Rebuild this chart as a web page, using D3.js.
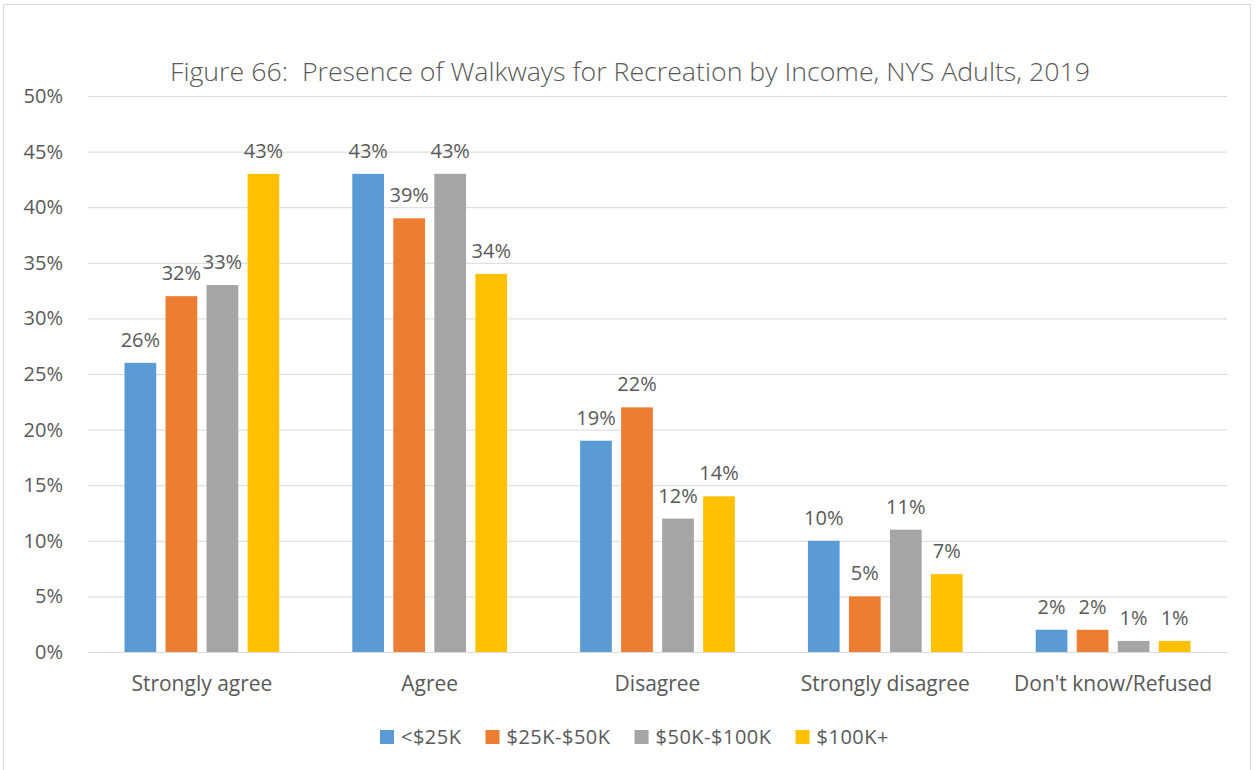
<!DOCTYPE html>
<html>
<head>
<meta charset="utf-8">
<script src="https://cdn.jsdelivr.net/npm/d3@7"></script>
<style>
  html, body { margin: 0; padding: 0; background: #fff; }
  text { font-family: "Open Sans", "Liberation Sans", sans-serif; fill: #595959; }
</style>
</head>
<body>
<div id="chart"></div>
<script>
// Chart data
const categories = ['Strongly agree', 'Agree', 'Disagree', 'Strongly disagree', "Don't know/Refused"];
const seriesNames = ['<$25K', '$25K-$50K', '$50K-$100K', '$100K+'];
const seriesColors = ['#5b9bd5', '#ed7d31', '#a5a5a5', '#ffc000'];
const under25 = [26, 43, 19, 10, 2];
const from25to50 = [32, 39, 22, 5, 2];
const from50to100 = [33, 43, 12, 11, 1];
const over100 = [43, 34, 14, 7, 1];
const yTicks = [0, 5, 10, 15, 20, 25, 30, 35, 40, 45, 50];
const title = 'Figure 66:  Presence of Walkways for Recreation by Income, NYS Adults, 2019';

const seriesValues = [under25, from25to50, from50to100, over100];

const width = 1256, height = 770,
    plot = { left: 88, right: 1227, top: 96, bottom: 652 };

const svg = d3.select('#chart')
    .append('svg')
    .attr('width', width)
    .attr('height', height);

// chart border
svg.append('rect')
    .attr('x', 3.5).attr('y', 4.5)
    .attr('width', 1247).attr('height', 770)
    .attr('fill', 'none')
    .attr('stroke', '#d9d9d9');

svg.append('text')
    .attr('x', 630).attr('y', 81)
    .attr('text-anchor', 'middle')
    .attr('textLength', 920)
    .attr('lengthAdjust', 'spacingAndGlyphs')
    .style('font-size', '25px')
    .style('font-weight', 300)
    .style('white-space', 'pre')
    .text(title);

const x = d3.scaleBand()
    .domain(categories)
    .range([plot.left, plot.right])
    .padding(0);

const xInner = d3.scaleBand()
    .domain(seriesNames)
    .range([0, x.bandwidth()])
    .paddingInner(0.227)
    .paddingOuter(0.89);

const y = d3.scaleLinear()
    .domain([0, 50])
    .range([plot.bottom, plot.top]);

// gridlines + y labels
const yAxis = svg.append('g')
    .attr('transform', `translate(${plot.left},0)`)
    .call(d3.axisLeft(y)
        .tickValues(yTicks)
        .tickSize(-(plot.right - plot.left))
        .tickPadding(25)
        .tickFormat(d => d + '%'));
yAxis.select('.domain').remove();
yAxis.selectAll('.tick line').attr('stroke', '#d9d9d9').attr('stroke-width', 1);
yAxis.selectAll('.tick text')
    .style('font-size', '20px')
    .style('font-family', '"Open Sans", sans-serif')
    .attr('fill', '#595959');

// bars
const groups = svg.append('g')
    .selectAll('g')
    .data(categories)
    .enter()
    .append('g')
    .attr('transform', d => `translate(${x(d)},0)`);

groups.each(function(cat, ci) {
    const rows = seriesNames.map((s, si) => ({ s, si, v: seriesValues[si][ci] }));
    const g = d3.select(this);
    g.selectAll('rect')
        .data(rows)
        .enter()
        .append('rect')
        .attr('x', d => xInner(d.s))
        .attr('y', d => y(d.v))
        .attr('width', xInner.bandwidth())
        .attr('height', d => y(0) - y(d.v))
        .attr('fill', d => seriesColors[d.si]);
    g.selectAll('text.val')
        .data(rows)
        .enter()
        .append('text')
        .attr('class', 'val')
        .attr('x', d => xInner(d.s) + xInner.bandwidth() / 2)
        .attr('y', d => y(d.v) - 16)
        .attr('text-anchor', 'middle')
        .style('font-size', '20px')
        .text(d => d.v + '%');
});

// x axis labels
const xAxis = svg.append('g')
    .attr('transform', `translate(0,${plot.bottom})`)
    .call(d3.axisBottom(x).tickSize(0));
xAxis.select('.domain').attr('stroke', '#d9d9d9');
xAxis.selectAll('.tick text')
    .attr('y', 39)
    .attr('dy', 0)
    .style('font-size', '21px')
    .style('font-family', '"Open Sans", sans-serif')
    .attr('fill', '#595959');

// legend
const legend = svg.append('g').attr('transform', 'translate(0,737)');
let lx = 380;
seriesNames.forEach((name, i) => {
    const item = legend.append('g').attr('transform', `translate(${lx},0)`);
    item.append('rect')
        .attr('x', 0).attr('y', -7)
        .attr('width', 14).attr('height', 14)
        .attr('fill', seriesColors[i]);
    const t = item.append('text')
        .attr('x', 21).attr('y', 7)
        .style('font-size', '20px')
        .style('letter-spacing', '0.5px')
        .text(name);
    lx += 21 + t.node().getComputedTextLength() + 24;
});
</script>
</body>
</html>
